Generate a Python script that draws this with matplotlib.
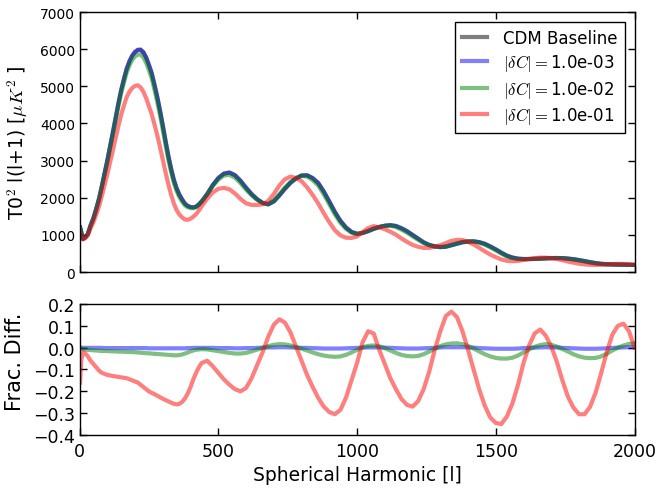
import numpy as np
import matplotlib
matplotlib.use("Agg")
import matplotlib.pyplot as plt

plt.rcParams['mathtext.fontset'] = 'cm'
plt.rcParams['font.family'] = 'DejaVu Sans'

# multipole grid
ell = [2, 6, 12] + list(range(20, 441, 10)) + list(range(460, 2001, 20))

# baseline spectrum, uK^2
cl_base = [1200, 1080, 895,
           930, 1030, 1260, 1450, 1700, 1970, 2300, 2650, 3000, 3380,
           3760, 4150, 4540, 4900, 5200, 5480, 5680, 5830, 5930, 5985,
           5990, 5920, 5780, 5580, 5360, 5050, 4720, 4350, 3950, 3530,
           3130, 2780, 2480, 2250, 2080, 1950, 1840, 1780, 1750, 1740,
           1760, 1820, 1900,
           2100, 2340, 2530, 2650, 2680, 2610, 2460, 2270, 2100, 1960,
           1860, 1820, 1900, 2060, 2240, 2400, 2520, 2600, 2605, 2530,
           2400, 2170, 1900, 1620, 1380, 1200, 1080, 1030, 1050, 1100,
           1160, 1210, 1245, 1262, 1240, 1180, 1100, 1000, 900, 800,
           730, 690, 670, 680, 720, 760, 800, 820, 825, 805,
           760, 690, 610, 520, 440, 390, 360, 350, 350, 352,
           358, 366, 372, 376, 374, 362, 345, 322, 295, 265,
           240, 222, 210, 203, 199, 196, 193, 190]

# fractional differences vs baseline
frac_1e3 = [0.0, 0.0, -0.001,
            -0.001, -0.001, -0.001, -0.001, -0.001, -0.001, -0.001, -0.002, -0.002, -0.002,
            -0.002, -0.002, -0.002, -0.002, -0.002, -0.002, -0.002, -0.002, -0.002, -0.002,
            -0.002, -0.002, -0.002, -0.003, -0.003, -0.003, -0.003, -0.003, -0.003, -0.003,
            -0.003, -0.003, -0.003, -0.003, -0.003, -0.003, -0.003, -0.002, -0.002, -0.001,
            -0.001, -0.001, -0.001,
            -0.001, -0.001, -0.002, -0.002, -0.002, -0.003, -0.003, -0.002, -0.002, -0.001,
            0.0, 0.001, 0.001, 0.002, 0.002, 0.001, 0.0, -0.001, -0.001, -0.002,
            -0.003, -0.004, -0.004, -0.004, -0.004, -0.003, -0.002, -0.001, 0.0, 0.001,
            0.001, 0.001, 0.0, -0.001, -0.002, -0.003, -0.004, -0.004, -0.004, -0.003,
            -0.002, -0.001, 0.001, 0.002, 0.002, 0.002, 0.002, 0.001, 0.0, -0.002,
            -0.003, -0.004, -0.005, -0.005, -0.005, -0.005, -0.004, -0.002, -0.001, 0.0,
            0.001, 0.002, 0.001, 0.001, -0.001, -0.002, -0.003, -0.004, -0.005, -0.005,
            -0.005, -0.004, -0.003, -0.001, 0.0, 0.001, 0.002, 0.002]

frac_1e2 = [0.0, -0.003, -0.006,
            -0.008, -0.010, -0.011, -0.012, -0.013, -0.014, -0.015, -0.015, -0.016, -0.016,
            -0.017, -0.017, -0.018, -0.018, -0.019, -0.019, -0.020, -0.020, -0.021, -0.022,
            -0.023, -0.024, -0.025, -0.026, -0.027, -0.028, -0.029, -0.030, -0.031, -0.032,
            -0.033, -0.034, -0.035, -0.035, -0.034, -0.031, -0.027, -0.022, -0.017, -0.013,
            -0.010, -0.008, -0.007,
            -0.008, -0.012, -0.016, -0.020, -0.024, -0.027, -0.027, -0.024, -0.017, -0.009,
            -0.001, 0.007, 0.013, 0.016, 0.015, 0.010, 0.003, -0.005, -0.013, -0.022,
            -0.030, -0.036, -0.040, -0.042, -0.040, -0.033, -0.022, -0.010, 0.002, 0.008,
            0.010, 0.006, -0.002, -0.013, -0.024, -0.033, -0.038, -0.040, -0.038, -0.030,
            -0.018, -0.005, 0.007, 0.015, 0.019, 0.020, 0.016, 0.008, -0.004, -0.017,
            -0.030, -0.040, -0.047, -0.050, -0.050, -0.046, -0.036, -0.022, -0.008, 0.004,
            0.012, 0.016, 0.013, 0.005, -0.006, -0.018, -0.030, -0.040, -0.046, -0.048,
            -0.047, -0.040, -0.028, -0.013, 0.000, 0.010, 0.017, 0.020]

frac_1e1 = [-0.16, -0.06, -0.02,
            -0.025, -0.04, -0.06, -0.075, -0.09, -0.105, -0.115, -0.12, -0.125, -0.127,
            -0.13, -0.132, -0.134, -0.136, -0.138, -0.14, -0.145, -0.15, -0.155, -0.16,
            -0.17, -0.18, -0.19, -0.20, -0.207, -0.213, -0.22, -0.227, -0.234, -0.24,
            -0.246, -0.252, -0.257, -0.26, -0.257, -0.248, -0.232, -0.21, -0.18, -0.145,
            -0.115, -0.09, -0.07,
            -0.06, -0.085, -0.115, -0.145, -0.17, -0.19, -0.20, -0.185, -0.14, -0.08,
            -0.02, 0.05, 0.105, 0.13, 0.115, 0.07, 0.005, -0.06, -0.125, -0.18,
            -0.23, -0.27, -0.295, -0.305, -0.285, -0.23, -0.15, -0.07, 0.025, 0.075,
            0.065, -0.01, -0.075, -0.14, -0.19, -0.235, -0.262, -0.27, -0.245, -0.19,
            -0.11, -0.01, 0.075, 0.145, 0.165, 0.14, 0.075, -0.01, -0.10, -0.19,
            -0.265, -0.32, -0.345, -0.35, -0.315, -0.255, -0.17, -0.07, 0.01, 0.065,
            0.083, 0.055, 0.005, -0.065, -0.15, -0.225, -0.275, -0.305, -0.305, -0.27,
            -0.205, -0.115, -0.02, 0.06, 0.10, 0.11, 0.075, 0.0]

labels = ['CDM Baseline', r'$|\delta C| = $1.0e-03',
          r'$|\delta C| = $1.0e-02', r'$|\delta C| = $1.0e-01']
colors = ['k', 'b', 'g', 'r']

ell = np.array(ell)
cl_base = np.array(cl_base, dtype=float)
fracs = [np.array(f) for f in (frac_1e3, frac_1e2, frac_1e1)]

fig = plt.figure(figsize=(6.59, 4.89), dpi=100)
ax1 = fig.add_axes([0.1207, 0.4417, 0.8422, 0.5317])
ax2 = fig.add_axes([0.1207, 0.1084, 0.8422, 0.2679])

lw = 3
ax1.plot(ell, cl_base, color=colors[0], alpha=0.5, lw=lw, label=labels[0])
for f, c, lab in zip(fracs, colors[1:], labels[1:]):
    ax1.plot(ell, cl_base * (1 + f), color=c, alpha=0.5, lw=lw, label=lab)
    ax2.plot(ell, f, color=c, alpha=0.5, lw=lw)

ax1.set_xlim(0, 2000)
ax1.set_ylim(0, 7000)
ax1.set_xticks([0, 500, 1000, 1500, 2000])
ax1.set_xticklabels([])
ax1.set_yticks(range(0, 7001, 1000))
ax1.set_ylabel(r'T0$^2$ l(l+1) [$\mu K^2$ ]', fontsize=13.5)
ax1.yaxis.set_label_coords(-0.089, 0.5)

leg = ax1.legend(loc='upper right', fontsize=12, fancybox=False,
                 framealpha=1, edgecolor='k', handlelength=1.5,
                 handletextpad=1.0, labelspacing=0.33, borderaxespad=0.6)
leg.get_frame().set_linewidth(1.0)

ax2.set_xlim(0, 2000)
ax2.set_ylim(-0.4, 0.2)
ax2.set_xticks([0, 500, 1000, 1500, 2000])
ax2.set_yticks(np.arange(-0.4, 0.21, 0.1))
ax2.set_xlabel('Spherical Harmonic [l]', fontsize=13.5)
ax2.set_ylabel('Frac. Diff.', fontsize=15)
ax2.yaxis.set_label_coords(-0.098, 0.569)

for ax in (ax1, ax2):
    ax.tick_params(direction='in', top=True, right=True, length=5, width=1, pad=3)
    for s in ax.spines.values():
        s.set_linewidth(1.0)
ax1.tick_params(labelsize=10)
ax2.tick_params(labelsize=12.5)
ax2.tick_params(axis='x', pad=5)

plt.savefig('out.png', dpi=100)
